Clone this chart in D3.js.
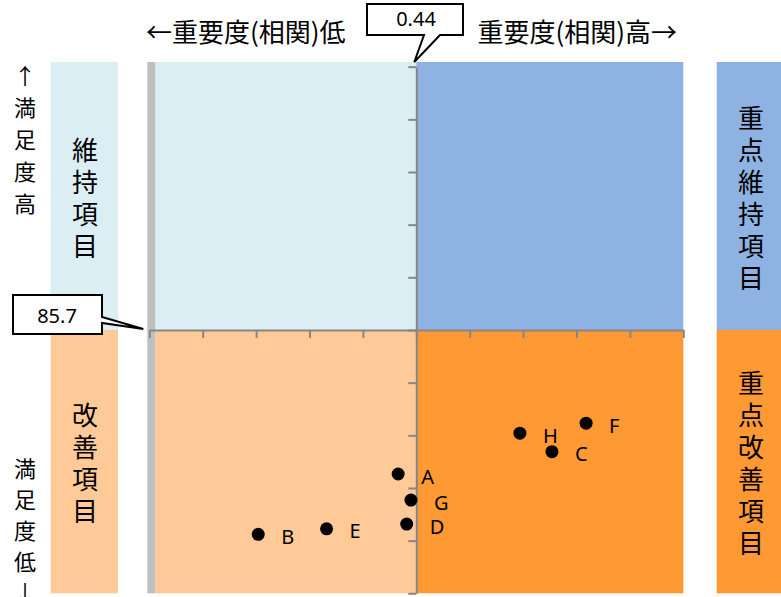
<!DOCTYPE html>
<html>
<head>
<meta charset="utf-8">
<script src="https://cdn.jsdelivr.net/npm/d3@7"></script>
<style>
  body { margin: 0; background: #fff; }
  svg text { font-family: "Noto Sans CJK JP", "Noto Sans", sans-serif; fill: #000; }
</style>
</head>
<body>
<svg id="chart"></svg>
<script>
// items: importance (correlation) vs satisfaction
const itemNames = ['A', 'B', 'C', 'D', 'E', 'F', 'G', 'H'];
const importance = [0.423, 0.292, 0.567, 0.431, 0.356, 0.599, 0.435, 0.537];
const satisfaction = [80.23, 77.94, 81.08, 78.33, 78.15, 82.16, 79.24, 81.78];

// crossing point of the axes (averages)
const crossX = 0.44;
const crossY = 85.7;
const xTicks = [0.19, 0.24, 0.29, 0.34, 0.39, 0.44, 0.49, 0.54, 0.59, 0.64, 0.69];
const yTicks = [75.7, 77.7, 79.7, 81.7, 83.7, 85.7, 87.7, 89.7, 91.7, 93.7, 95.7];

const quadrantLabels = ['維持項目', '改善項目', '重点維持項目', '重点改善項目'];
const colors = {
    lightBlue: '#dbeef4',
    blue: '#8eb3e2',
    peach: '#ffca98',
    orange: '#ff9933',
    gray: '#bfbfbf',
    axis: '#868686',
};

const width = 781, height = 597;
const svg = d3.select('#chart').attr('width', width).attr('height', height);

const x = d3.scaleLinear().domain([xTicks[0], xTicks[xTicks.length - 1]]).range([149.3, 683.3]);
const y = d3.scaleLinear().domain([yTicks[0], yTicks[yTicks.length - 1]]).range([593.3, 66.7]);

const plotTop = y.range()[1] - 4.7;
const plotBottom = y.range()[0];
const plotLeft = x.range()[0];
const plotRight = x.range()[1];

// quadrant backgrounds
const bg = svg.append('g');
bg.append('rect').attr('x', plotLeft + 6).attr('y', plotTop)
    .attr('width', x(crossX) - plotLeft - 6).attr('height', y(crossY) - plotTop).attr('fill', colors.lightBlue);
bg.append('rect').attr('x', x(crossX)).attr('y', plotTop)
    .attr('width', plotRight - x(crossX)).attr('height', y(crossY) - plotTop).attr('fill', colors.blue);
bg.append('rect').attr('x', plotLeft + 6).attr('y', y(crossY))
    .attr('width', x(crossX) - plotLeft - 6).attr('height', plotBottom - y(crossY)).attr('fill', colors.peach);
bg.append('rect').attr('x', x(crossX)).attr('y', y(crossY))
    .attr('width', plotRight - x(crossX)).attr('height', plotBottom - y(crossY)).attr('fill', colors.orange);
bg.append('rect').attr('x', plotLeft - 2).attr('y', plotTop)
    .attr('width', 8).attr('height', plotBottom - plotTop).attr('fill', colors.gray);

// side label boxes
const boxes = [
    { x: 50.7, w: 67.3, y0: plotTop, y1: y(crossY), fill: colors.lightBlue, text: quadrantLabels[0], cx: 85 },
    { x: 50.7, w: 67.3, y0: y(crossY), y1: plotBottom, fill: colors.peach, text: quadrantLabels[1], cx: 85 },
    { x: 716.7, w: 70, y0: plotTop, y1: y(crossY), fill: colors.blue, text: quadrantLabels[2], cx: 751 },
    { x: 716.7, w: 70, y0: y(crossY), y1: plotBottom, fill: colors.orange, text: quadrantLabels[3], cx: 751 },
];

function verticalText(g, str, cx, cy, size, pitch) {
    const chars = Array.from(str);
    const t = g.append('text')
        .attr('text-anchor', 'middle')
        .style('font-size', size + 'px');
    chars.forEach((c, i) => {
        t.append('tspan')
            .attr('x', cx)
            .attr('y', cy + (i - (chars.length - 1) / 2) * pitch)
            .attr('dominant-baseline', 'central')
            .text(c);
    });
}

boxes.forEach(b => {
    svg.append('rect').attr('x', b.x).attr('y', b.y0)
        .attr('width', b.w).attr('height', b.y1 - b.y0).attr('fill', b.fill);
    verticalText(svg, b.text, b.cx, (b.y0 + b.y1) / 2, 26, 32);
});

// satisfaction direction labels
verticalText(svg, '↑満足度高', 25, 138, 22, 32);
verticalText(svg, '満足度低↓', 25, 529, 22, 31);

// importance direction labels
svg.append('text').attr('x', 146).attr('y', 30)
    .attr('dominant-baseline', 'central')
    .style('font-size', '26px').text('←重要度(相関)低');
svg.append('text').attr('x', 677).attr('y', 30)
    .attr('text-anchor', 'end').attr('dominant-baseline', 'central')
    .style('font-size', '26px').text('重要度(相関)高→');

// axes crossing at the averages
const xAxis = svg.append('g')
    .attr('transform', `translate(0, ${y(crossY)})`)
    .call(d3.axisBottom(x).tickValues(xTicks).tickSize(8).tickSizeOuter(0).tickFormat(''));
const yAxis = svg.append('g')
    .attr('transform', `translate(${x(crossX)}, 0)`)
    .call(d3.axisLeft(y).tickValues(yTicks).tickSize(8).tickSizeOuter(0).tickFormat(''));
[xAxis, yAxis].forEach(a => {
    a.select('.domain').attr('stroke', colors.axis).attr('stroke-width', 2);
    a.selectAll('.tick line').attr('stroke', colors.axis).attr('stroke-width', 2);
});

// points
const points = itemNames.map((n, i) => ({ name: n, x: importance[i], y: satisfaction[i] }));
svg.append('g').selectAll('circle')
    .data(points)
    .join('circle')
    .attr('cx', d => x(d.x))
    .attr('cy', d => y(d.y))
    .attr('r', 6.5)
    .attr('fill', '#000');
svg.append('g').selectAll('text')
    .data(points)
    .join('text')
    .attr('x', d => x(d.x) + 23)
    .attr('y', d => y(d.y) + 2)
    .attr('dominant-baseline', 'central')
    .style('font-family', '"Noto Sans", sans-serif')
    .style('font-size', '20px')
    .text(d => d.name);

// callouts showing the crossing values
const cx0 = x(crossX);
svg.append('path')
    .attr('d', `M367,4 H463 V35 H440 L${cx0 - 2},${plotTop} L424,35 H367 Z`)
    .attr('fill', '#fff').attr('stroke', '#000').attr('stroke-width', 2);
svg.append('text').attr('x', 416).attr('y', 18)
    .attr('text-anchor', 'middle').attr('dominant-baseline', 'central')
    .style('font-family', '"Noto Sans", sans-serif').style('font-size', '20px')
    .text(crossX.toFixed(2));

const cy0 = y(crossY);
svg.append('path')
    .attr('d', `M13,295 H102 V317 L${plotLeft - 6},${cy0 - 1} L102,323 V334 H13 Z`)
    .attr('fill', '#fff').attr('stroke', '#000').attr('stroke-width', 2);
svg.append('text').attr('x', 57).attr('y', 315)
    .attr('text-anchor', 'middle').attr('dominant-baseline', 'central')
    .style('font-family', '"Noto Sans", sans-serif').style('font-size', '20px')
    .text(crossY.toFixed(1));
</script>
</body>
</html>
